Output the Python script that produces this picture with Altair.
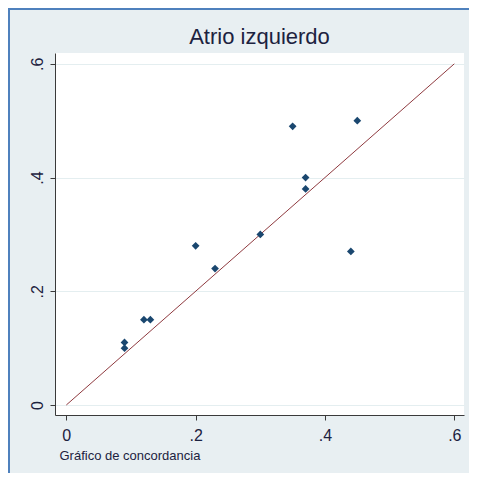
import altair as alt
import pandas as pd

# Data
x_vals = [0.09, 0.09, 0.12, 0.13, 0.20, 0.23, 0.30, 0.35, 0.37, 0.37, 0.44, 0.45]
y_vals = [0.11, 0.10, 0.15, 0.15, 0.28, 0.24, 0.30, 0.49, 0.40, 0.38, 0.27, 0.50]
line_vals = [0.0, 0.6]
tick_vals = [0, 0.2, 0.4, 0.6]
title_text = ["Atrio izquierdo"]

pts = pd.DataFrame({"x": x_vals, "y": y_vals})
ln = pd.DataFrame({"x": line_vals, "y": line_vals})

W, H = 409, 362
PAD_L, PAD_T, PAD_R, PAD_B = 47, 45, 5, 58

FONT = "Liberation Sans"
TXT = "#1c2240"

xs = alt.Scale(domain=[-0.0175, 0.615], nice=False, zero=False)
ys = alt.Scale(domain=[-0.0176, 0.619], nice=False, zero=False)

label_expr = "datum.value == 0 ? '0' : replace(format(datum.value, '.1f'), '0.', '.')"

xaxis = alt.Axis(
    values=tick_vals, labelExpr=label_expr, grid=False,
    title="Gráfico de concordancia", titleAnchor="start", titleAlign="left",
    titleX=4, titleY=44, titleBaseline="alphabetic", titleFontSize=13,
    titleFontWeight="normal", titleFont=FONT, titleColor=TXT,
    labelFontSize=16, labelFont=FONT, labelColor=TXT, labelPadding=7,
    tickSize=5, tickColor="#3a3a3a", domainColor="#3a3a3a", domainWidth=1,
    labelFlush=False,
)
yaxis = alt.Axis(
    values=tick_vals, labelExpr=label_expr, grid=True, gridColor="#e4eef0",
    title=None, labelAngle=270, labelAlign="center", labelBaseline="alphabetic",
    labelFontSize=16, labelFont=FONT, labelColor=TXT, labelPadding=8,
    tickSize=5, tickColor="#3a3a3a", domainColor="#3a3a3a", domainWidth=1,
    labelFlush=False,
)

points = alt.Chart(pts).mark_point(
    shape="diamond", filled=True, size=60, color="#1a476f", opacity=1
).encode(
    x=alt.X("x:Q", scale=xs, axis=xaxis),
    y=alt.Y("y:Q", scale=ys, axis=yaxis),
)

line = alt.Chart(ln).mark_line(color="#8f3a3f", strokeWidth=1).encode(
    x=alt.X("x:Q", scale=xs),
    y=alt.Y("y:Q", scale=ys),
)

dummy = pd.DataFrame({"a": [0]})
border_left = alt.Chart(dummy).mark_rule(color="#4f81bd", strokeWidth=2).encode(
    x=alt.value(-PAD_L + 1), y=alt.value(-PAD_T), y2=alt.value(H + PAD_B)
)
border_top = alt.Chart(dummy).mark_rule(color="#4f81bd", strokeWidth=2).encode(
    x=alt.value(-PAD_L), x2=alt.value(W + PAD_R), y=alt.value(-PAD_T + 1)
)

title = alt.Chart(pd.DataFrame({"t": title_text})).mark_text(
    font=FONT, fontSize=22, color=TXT, align="center", baseline="alphabetic"
).encode(
    text="t:N", x=alt.value(W / 2), y=alt.value(-9)
)

chart = alt.layer(line, points, border_left, border_top, title).properties(
    width=W, height=H,
    background="#e8eff2",
    padding={"left": PAD_L, "top": PAD_T, "right": PAD_R, "bottom": PAD_B},
    autosize=alt.AutoSizeParams(type="none"),
).configure_view(stroke=None, fill="white")

chart.save("out.html", embed_options={"renderer": "svg", "actions": False})
